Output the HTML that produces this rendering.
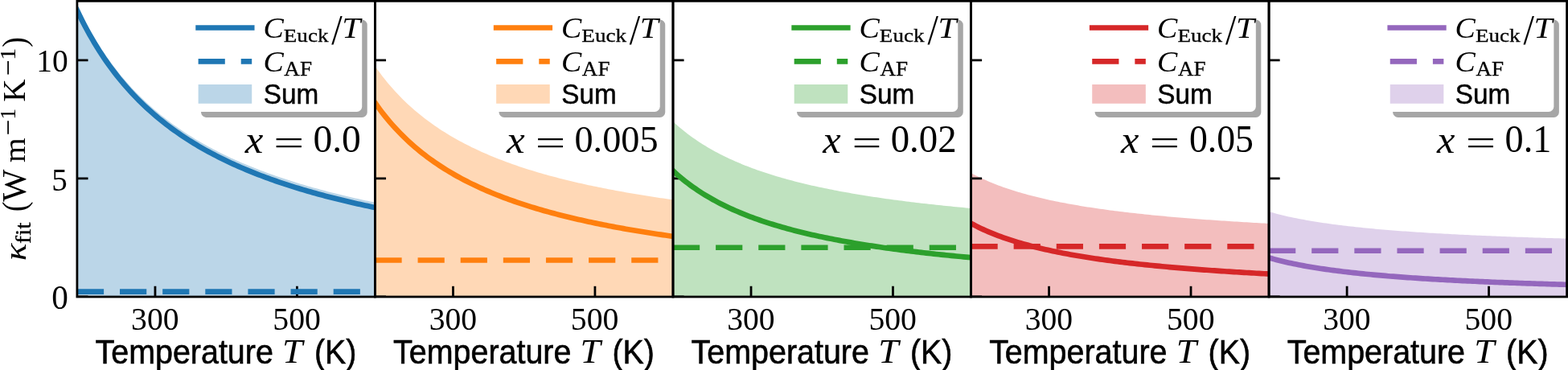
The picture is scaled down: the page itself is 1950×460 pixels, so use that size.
<!DOCTYPE html>
<html><head><meta charset="utf-8"><title>kappa fit</title>
<style>html,body{margin:0;padding:0;background:#fff;overflow:hidden}svg{display:block}.sf{font-family:"Liberation Serif",serif}.ss{font-family:"Liberation Sans",sans-serif}.it{font-style:italic}.b{stroke:#000;stroke-width:0.48px}.b2{stroke:#000;stroke-width:0.56px}</style></head>
<body>
<svg width="1950" height="460" viewBox="0 0 1950 460">
<defs>
<clipPath id="cp0"><rect x="95.90" y="1.30" width="370.54" height="367.70"/></clipPath>
<clipPath id="cp1"><rect x="466.44" y="1.30" width="370.54" height="367.70"/></clipPath>
<clipPath id="cp2"><rect x="836.98" y="1.30" width="370.54" height="367.70"/></clipPath>
<clipPath id="cp3"><rect x="1207.52" y="1.30" width="370.54" height="367.70"/></clipPath>
<clipPath id="cp4"><rect x="1578.06" y="1.30" width="370.54" height="367.70"/></clipPath>
</defs>
<rect width="1950" height="460" fill="#fff"/>
<g clip-path="url(#cp0)">
<path d="M95.90,369.00 L95.90,6.46 L98.99,12.91 L102.08,19.12 L105.16,25.12 L108.25,30.91 L111.34,36.51 L114.43,41.92 L117.51,47.15 L120.60,52.22 L123.69,57.12 L126.78,61.88 L129.87,66.49 L132.95,70.95 L136.04,75.29 L139.13,79.50 L142.22,83.59 L145.31,87.56 L148.39,91.42 L151.48,95.17 L154.57,98.82 L157.66,102.37 L160.74,105.83 L163.83,109.20 L166.92,112.48 L170.01,115.67 L173.10,118.79 L176.18,121.83 L179.27,124.79 L182.36,127.68 L185.45,130.51 L188.54,133.26 L191.62,135.95 L194.71,138.58 L197.80,141.15 L200.89,143.66 L203.97,146.11 L207.06,148.51 L210.15,150.85 L213.24,153.15 L216.33,155.40 L219.41,157.60 L222.50,159.75 L225.59,161.86 L228.68,163.92 L231.76,165.94 L234.85,167.92 L237.94,169.87 L241.03,171.77 L244.12,173.64 L247.20,175.47 L250.29,177.26 L253.38,179.02 L256.47,180.75 L259.56,182.45 L262.64,184.11 L265.73,185.75 L268.82,187.35 L271.91,188.93 L274.99,190.48 L278.08,192.00 L281.17,193.49 L284.26,194.96 L287.35,196.40 L290.43,197.82 L293.52,199.21 L296.61,200.58 L299.70,201.93 L302.78,203.26 L305.87,204.56 L308.96,205.84 L312.05,207.10 L315.14,208.35 L318.22,209.57 L321.31,210.77 L324.40,211.96 L327.49,213.12 L330.58,214.27 L333.66,215.40 L336.75,216.51 L339.84,217.61 L342.93,218.69 L346.01,219.76 L349.10,220.81 L352.19,221.84 L355.28,222.86 L358.37,223.86 L361.45,224.85 L364.54,225.83 L367.63,226.79 L370.72,227.74 L373.81,228.67 L376.89,229.60 L379.98,230.51 L383.07,231.40 L386.16,232.29 L389.24,233.16 L392.33,234.02 L395.42,234.87 L398.51,235.71 L401.60,236.54 L404.68,237.36 L407.77,238.17 L410.86,238.96 L413.95,239.75 L417.03,240.53 L420.12,241.29 L423.21,242.05 L426.30,242.80 L429.39,243.54 L432.47,244.27 L435.56,244.99 L438.65,245.70 L441.74,246.41 L444.83,247.10 L447.91,247.79 L451.00,248.47 L454.09,249.14 L457.18,249.80 L460.26,250.46 L463.35,251.10 L466.44,251.74 L466.44,369.00 Z" fill="#1f77b4" fill-opacity="0.3"/>
<line x1="192.95" y1="369.00" x2="192.95" y2="355.80" stroke="#000" stroke-width="2.78"/>
<line x1="369.39" y1="369.00" x2="369.39" y2="355.80" stroke="#000" stroke-width="2.78"/>
<line x1="95.90" y1="369.00" x2="109.50" y2="369.00" stroke="#000" stroke-width="2.78"/>
<line x1="95.90" y1="221.92" x2="109.50" y2="221.92" stroke="#000" stroke-width="2.78"/>
<line x1="95.90" y1="74.84" x2="109.50" y2="74.84" stroke="#000" stroke-width="2.78"/>
<path d="M95.90,12.76 L98.99,19.20 L102.08,25.42 L105.16,31.41 L108.25,37.20 L111.34,42.80 L114.43,48.21 L117.51,53.45 L120.60,58.51 L123.69,63.42 L126.78,68.17 L129.87,72.78 L132.95,77.25 L136.04,81.59 L139.13,85.79 L142.22,89.88 L145.31,93.85 L148.39,97.71 L151.48,101.47 L154.57,105.12 L157.66,108.67 L160.74,112.13 L163.83,115.49 L166.92,118.77 L170.01,121.97 L173.10,125.09 L176.18,128.12 L179.27,131.09 L182.36,133.98 L185.45,136.80 L188.54,139.56 L191.62,142.25 L194.71,144.87 L197.80,147.44 L200.89,149.95 L203.97,152.40 L207.06,154.80 L210.15,157.15 L213.24,159.45 L216.33,161.69 L219.41,163.89 L222.50,166.04 L225.59,168.15 L228.68,170.22 L231.76,172.24 L234.85,174.22 L237.94,176.16 L241.03,178.07 L244.12,179.93 L247.20,181.76 L250.29,183.56 L253.38,185.32 L256.47,187.05 L259.56,188.74 L262.64,190.41 L265.73,192.04 L268.82,193.65 L271.91,195.22 L274.99,196.77 L278.08,198.29 L281.17,199.78 L284.26,201.25 L287.35,202.69 L290.43,204.11 L293.52,205.51 L296.61,206.88 L299.70,208.23 L302.78,209.55 L305.87,210.85 L308.96,212.14 L312.05,213.40 L315.14,214.64 L318.22,215.86 L321.31,217.07 L324.40,218.25 L327.49,219.42 L330.58,220.57 L333.66,221.70 L336.75,222.81 L339.84,223.91 L342.93,224.99 L346.01,226.05 L349.10,227.10 L352.19,228.13 L355.28,229.15 L358.37,230.16 L361.45,231.15 L364.54,232.12 L367.63,233.08 L370.72,234.03 L373.81,234.97 L376.89,235.89 L379.98,236.80 L383.07,237.70 L386.16,238.58 L389.24,239.46 L392.33,240.32 L395.42,241.17 L398.51,242.01 L401.60,242.84 L404.68,243.66 L407.77,244.46 L410.86,245.26 L413.95,246.05 L417.03,246.82 L420.12,247.59 L423.21,248.35 L426.30,249.10 L429.39,249.83 L432.47,250.56 L435.56,251.28 L438.65,252.00 L441.74,252.70 L444.83,253.40 L447.91,254.08 L451.00,254.76 L454.09,255.43 L457.18,256.10 L460.26,256.75 L463.35,257.40 L466.44,258.04" fill="none" stroke="#1f77b4" stroke-width="6.67" stroke-linecap="square" stroke-linejoin="round"/>
<line x1="95.90" y1="362.70" x2="466.44" y2="362.70" stroke="#1f77b4" stroke-width="6.67" stroke-dasharray="33.2 19.93"/>
</g>
<g clip-path="url(#cp1)">
<path d="M466.44,369.00 L466.44,82.28 L469.53,86.65 L472.62,90.85 L475.70,94.91 L478.79,98.84 L481.88,102.63 L484.97,106.29 L488.05,109.83 L491.14,113.26 L494.23,116.59 L497.32,119.80 L500.41,122.92 L503.49,125.95 L506.58,128.89 L509.67,131.74 L512.76,134.50 L515.85,137.19 L518.93,139.81 L522.02,142.35 L525.11,144.82 L528.20,147.22 L531.28,149.57 L534.37,151.85 L537.46,154.07 L540.55,156.23 L543.64,158.34 L546.72,160.40 L549.81,162.40 L552.90,164.36 L555.99,166.27 L559.08,168.14 L562.16,169.96 L565.25,171.74 L568.34,173.48 L571.43,175.18 L574.51,176.84 L577.60,178.46 L580.69,180.05 L583.78,181.60 L586.87,183.13 L589.95,184.61 L593.04,186.07 L596.13,187.50 L599.22,188.90 L602.30,190.27 L605.39,191.61 L608.48,192.92 L611.57,194.21 L614.66,195.48 L617.74,196.72 L620.83,197.93 L623.92,199.12 L627.01,200.29 L630.10,201.44 L633.18,202.57 L636.27,203.68 L639.36,204.76 L642.45,205.83 L645.53,206.88 L648.62,207.91 L651.71,208.92 L654.80,209.91 L657.89,210.89 L660.97,211.85 L664.06,212.79 L667.15,213.72 L670.24,214.63 L673.32,215.53 L676.41,216.41 L679.50,217.28 L682.59,218.14 L685.68,218.98 L688.76,219.81 L691.85,220.62 L694.94,221.42 L698.03,222.21 L701.12,222.99 L704.20,223.75 L707.29,224.51 L710.38,225.25 L713.47,225.98 L716.55,226.70 L719.64,227.41 L722.73,228.11 L725.82,228.80 L728.91,229.48 L731.99,230.15 L735.08,230.81 L738.17,231.47 L741.26,232.11 L744.35,232.74 L747.43,233.37 L750.52,233.98 L753.61,234.59 L756.70,235.19 L759.78,235.78 L762.87,236.36 L765.96,236.94 L769.05,237.51 L772.14,238.07 L775.22,238.62 L778.31,239.17 L781.40,239.71 L784.49,240.24 L787.57,240.77 L790.66,241.29 L793.75,241.80 L796.84,242.31 L799.93,242.81 L803.01,243.30 L806.10,243.79 L809.19,244.27 L812.28,244.75 L815.37,245.22 L818.45,245.68 L821.54,246.14 L824.63,246.60 L827.72,247.05 L830.80,247.49 L833.89,247.93 L836.98,248.36 L836.98,369.00 Z" fill="#ff7f0e" fill-opacity="0.3"/>
<line x1="563.49" y1="369.00" x2="563.49" y2="355.80" stroke="#000" stroke-width="2.78"/>
<line x1="739.93" y1="369.00" x2="739.93" y2="355.80" stroke="#000" stroke-width="2.78"/>
<line x1="466.44" y1="369.00" x2="480.04" y2="369.00" stroke="#000" stroke-width="2.78"/>
<line x1="466.44" y1="221.92" x2="480.04" y2="221.92" stroke="#000" stroke-width="2.78"/>
<line x1="466.44" y1="74.84" x2="480.04" y2="74.84" stroke="#000" stroke-width="2.78"/>
<path d="M466.44,127.79 L469.53,132.15 L472.62,136.36 L475.70,140.42 L478.79,144.34 L481.88,148.13 L484.97,151.80 L488.05,155.34 L491.14,158.77 L494.23,162.09 L497.32,165.31 L500.41,168.43 L503.49,171.46 L506.58,174.39 L509.67,177.24 L512.76,180.01 L515.85,182.70 L518.93,185.31 L522.02,187.85 L525.11,190.33 L528.20,192.73 L531.28,195.07 L534.37,197.35 L537.46,199.57 L540.55,201.74 L543.64,203.85 L546.72,205.90 L549.81,207.91 L552.90,209.87 L555.99,211.78 L559.08,213.64 L562.16,215.47 L565.25,217.24 L568.34,218.98 L571.43,220.68 L574.51,222.34 L577.60,223.97 L580.69,225.56 L583.78,227.11 L586.87,228.63 L589.95,230.12 L593.04,231.58 L596.13,233.01 L599.22,234.40 L602.30,235.77 L605.39,237.11 L608.48,238.43 L611.57,239.72 L614.66,240.98 L617.74,242.22 L620.83,243.44 L623.92,244.63 L627.01,245.80 L630.10,246.95 L633.18,248.08 L636.27,249.18 L639.36,250.27 L642.45,251.34 L645.53,252.38 L648.62,253.41 L651.71,254.42 L654.80,255.42 L657.89,256.40 L660.97,257.36 L664.06,258.30 L667.15,259.23 L670.24,260.14 L673.32,261.04 L676.41,261.92 L679.50,262.79 L682.59,263.64 L685.68,264.48 L688.76,265.31 L691.85,266.13 L694.94,266.93 L698.03,267.72 L701.12,268.50 L704.20,269.26 L707.29,270.01 L710.38,270.76 L713.47,271.49 L716.55,272.21 L719.64,272.92 L722.73,273.62 L725.82,274.31 L728.91,274.99 L731.99,275.66 L735.08,276.32 L738.17,276.97 L741.26,277.61 L744.35,278.25 L747.43,278.87 L750.52,279.49 L753.61,280.10 L756.70,280.70 L759.78,281.29 L762.87,281.87 L765.96,282.45 L769.05,283.01 L772.14,283.58 L775.22,284.13 L778.31,284.68 L781.40,285.22 L784.49,285.75 L787.57,286.27 L790.66,286.79 L793.75,287.31 L796.84,287.81 L799.93,288.31 L803.01,288.81 L806.10,289.30 L809.19,289.78 L812.28,290.25 L815.37,290.72 L818.45,291.19 L821.54,291.65 L824.63,292.10 L827.72,292.55 L830.80,293.00 L833.89,293.44 L836.98,293.87" fill="none" stroke="#ff7f0e" stroke-width="6.67" stroke-linecap="square" stroke-linejoin="round"/>
<line x1="466.44" y1="323.49" x2="836.98" y2="323.49" stroke="#ff7f0e" stroke-width="6.67" stroke-dasharray="33.2 19.93"/>
</g>
<g clip-path="url(#cp2)">
<path d="M836.98,369.00 L836.98,151.08 L840.07,153.91 L843.16,156.64 L846.24,159.28 L849.33,161.83 L852.42,164.29 L855.51,166.67 L858.59,168.97 L861.68,171.20 L864.77,173.36 L867.86,175.45 L870.95,177.48 L874.03,179.44 L877.12,181.35 L880.21,183.20 L883.30,185.00 L886.39,186.74 L889.47,188.44 L892.56,190.09 L895.65,191.70 L898.74,193.26 L901.82,194.78 L904.91,196.26 L908.00,197.70 L911.09,199.11 L914.18,200.48 L917.26,201.82 L920.35,203.12 L923.44,204.39 L926.53,205.63 L929.62,206.84 L932.70,208.03 L935.79,209.18 L938.88,210.31 L941.97,211.42 L945.05,212.50 L948.14,213.55 L951.23,214.58 L954.32,215.59 L957.41,216.58 L960.49,217.55 L963.58,218.49 L966.67,219.42 L969.76,220.33 L972.84,221.22 L975.93,222.09 L979.02,222.94 L982.11,223.78 L985.20,224.60 L988.28,225.41 L991.37,226.20 L994.46,226.97 L997.55,227.73 L1000.64,228.48 L1003.72,229.21 L1006.81,229.93 L1009.90,230.63 L1012.99,231.33 L1016.07,232.01 L1019.16,232.68 L1022.25,233.33 L1025.34,233.98 L1028.43,234.61 L1031.51,235.24 L1034.60,235.85 L1037.69,236.45 L1040.78,237.05 L1043.86,237.63 L1046.95,238.20 L1050.04,238.77 L1053.13,239.32 L1056.22,239.87 L1059.30,240.41 L1062.39,240.93 L1065.48,241.46 L1068.57,241.97 L1071.66,242.47 L1074.74,242.97 L1077.83,243.46 L1080.92,243.94 L1084.01,244.42 L1087.09,244.89 L1090.18,245.35 L1093.27,245.80 L1096.36,246.25 L1099.45,246.69 L1102.53,247.13 L1105.62,247.56 L1108.71,247.98 L1111.80,248.40 L1114.88,248.81 L1117.97,249.21 L1121.06,249.61 L1124.15,250.01 L1127.24,250.40 L1130.32,250.78 L1133.41,251.16 L1136.50,251.53 L1139.59,251.90 L1142.68,252.27 L1145.76,252.63 L1148.85,252.98 L1151.94,253.33 L1155.03,253.68 L1158.11,254.02 L1161.20,254.36 L1164.29,254.69 L1167.38,255.02 L1170.47,255.35 L1173.55,255.67 L1176.64,255.98 L1179.73,256.30 L1182.82,256.61 L1185.91,256.91 L1188.99,257.21 L1192.08,257.51 L1195.17,257.81 L1198.26,258.10 L1201.34,258.39 L1204.43,258.67 L1207.52,258.95 L1207.52,369.00 Z" fill="#2ca02c" fill-opacity="0.3"/>
<line x1="934.03" y1="369.00" x2="934.03" y2="355.80" stroke="#000" stroke-width="2.78"/>
<line x1="1110.47" y1="369.00" x2="1110.47" y2="355.80" stroke="#000" stroke-width="2.78"/>
<line x1="836.98" y1="369.00" x2="850.58" y2="369.00" stroke="#000" stroke-width="2.78"/>
<line x1="836.98" y1="221.92" x2="850.58" y2="221.92" stroke="#000" stroke-width="2.78"/>
<line x1="836.98" y1="74.84" x2="850.58" y2="74.84" stroke="#000" stroke-width="2.78"/>
<path d="M836.98,212.32 L840.07,215.16 L843.16,217.89 L846.24,220.53 L849.33,223.07 L852.42,225.53 L855.51,227.91 L858.59,230.22 L861.68,232.44 L864.77,234.60 L867.86,236.69 L870.95,238.72 L874.03,240.69 L877.12,242.59 L880.21,244.44 L883.30,246.24 L886.39,247.99 L889.47,249.69 L892.56,251.34 L895.65,252.94 L898.74,254.50 L901.82,256.02 L904.91,257.51 L908.00,258.95 L911.09,260.35 L914.18,261.72 L917.26,263.06 L920.35,264.36 L923.44,265.64 L926.53,266.88 L929.62,268.09 L932.70,269.27 L935.79,270.43 L938.88,271.56 L941.97,272.66 L945.05,273.74 L948.14,274.79 L951.23,275.83 L954.32,276.84 L957.41,277.82 L960.49,278.79 L963.58,279.74 L966.67,280.66 L969.76,281.57 L972.84,282.46 L975.93,283.33 L979.02,284.19 L982.11,285.03 L985.20,285.85 L988.28,286.65 L991.37,287.44 L994.46,288.22 L997.55,288.98 L1000.64,289.72 L1003.72,290.45 L1006.81,291.17 L1009.90,291.88 L1012.99,292.57 L1016.07,293.25 L1019.16,293.92 L1022.25,294.58 L1025.34,295.22 L1028.43,295.86 L1031.51,296.48 L1034.60,297.09 L1037.69,297.70 L1040.78,298.29 L1043.86,298.87 L1046.95,299.45 L1050.04,300.01 L1053.13,300.57 L1056.22,301.11 L1059.30,301.65 L1062.39,302.18 L1065.48,302.70 L1068.57,303.21 L1071.66,303.72 L1074.74,304.21 L1077.83,304.70 L1080.92,305.19 L1084.01,305.66 L1087.09,306.13 L1090.18,306.59 L1093.27,307.05 L1096.36,307.49 L1099.45,307.94 L1102.53,308.37 L1105.62,308.80 L1108.71,309.22 L1111.80,309.64 L1114.88,310.05 L1117.97,310.46 L1121.06,310.86 L1124.15,311.25 L1127.24,311.64 L1130.32,312.03 L1133.41,312.40 L1136.50,312.78 L1139.59,313.15 L1142.68,313.51 L1145.76,313.87 L1148.85,314.23 L1151.94,314.58 L1155.03,314.92 L1158.11,315.27 L1161.20,315.60 L1164.29,315.94 L1167.38,316.26 L1170.47,316.59 L1173.55,316.91 L1176.64,317.23 L1179.73,317.54 L1182.82,317.85 L1185.91,318.16 L1188.99,318.46 L1192.08,318.76 L1195.17,319.05 L1198.26,319.34 L1201.34,319.63 L1204.43,319.92 L1207.52,320.20" fill="none" stroke="#2ca02c" stroke-width="6.67" stroke-linecap="square" stroke-linejoin="round"/>
<line x1="836.98" y1="307.76" x2="1207.52" y2="307.76" stroke="#2ca02c" stroke-width="6.67" stroke-dasharray="33.2 19.93"/>
</g>
<g clip-path="url(#cp3)">
<path d="M1207.52,369.00 L1207.52,215.00 L1210.61,216.65 L1213.70,218.25 L1216.78,219.78 L1219.87,221.27 L1222.96,222.70 L1226.05,224.09 L1229.13,225.43 L1232.22,226.73 L1235.31,227.99 L1238.40,229.21 L1241.49,230.39 L1244.57,231.54 L1247.66,232.65 L1250.75,233.73 L1253.84,234.78 L1256.93,235.79 L1260.01,236.78 L1263.10,237.75 L1266.19,238.68 L1269.28,239.59 L1272.36,240.48 L1275.45,241.34 L1278.54,242.18 L1281.63,243.00 L1284.72,243.80 L1287.80,244.58 L1290.89,245.34 L1293.98,246.08 L1297.07,246.81 L1300.16,247.51 L1303.24,248.20 L1306.33,248.88 L1309.42,249.53 L1312.51,250.18 L1315.59,250.81 L1318.68,251.42 L1321.77,252.02 L1324.86,252.61 L1327.95,253.19 L1331.03,253.75 L1334.12,254.30 L1337.21,254.84 L1340.30,255.37 L1343.38,255.89 L1346.47,256.40 L1349.56,256.90 L1352.65,257.39 L1355.74,257.87 L1358.82,258.33 L1361.91,258.79 L1365.00,259.25 L1368.09,259.69 L1371.18,260.12 L1374.26,260.55 L1377.35,260.97 L1380.44,261.38 L1383.53,261.79 L1386.61,262.18 L1389.70,262.57 L1392.79,262.96 L1395.88,263.33 L1398.97,263.70 L1402.05,264.07 L1405.14,264.42 L1408.23,264.77 L1411.32,265.12 L1414.40,265.46 L1417.49,265.79 L1420.58,266.12 L1423.67,266.45 L1426.76,266.76 L1429.84,267.08 L1432.93,267.39 L1436.02,267.69 L1439.11,267.99 L1442.20,268.28 L1445.28,268.57 L1448.37,268.86 L1451.46,269.14 L1454.55,269.42 L1457.63,269.69 L1460.72,269.96 L1463.81,270.22 L1466.90,270.49 L1469.99,270.74 L1473.07,271.00 L1476.16,271.25 L1479.25,271.49 L1482.34,271.74 L1485.43,271.98 L1488.51,272.21 L1491.60,272.45 L1494.69,272.68 L1497.78,272.90 L1500.86,273.13 L1503.95,273.35 L1507.04,273.57 L1510.13,273.78 L1513.22,273.99 L1516.30,274.20 L1519.39,274.41 L1522.48,274.62 L1525.57,274.82 L1528.65,275.02 L1531.74,275.21 L1534.83,275.41 L1537.92,275.60 L1541.01,275.79 L1544.09,275.98 L1547.18,276.16 L1550.27,276.34 L1553.36,276.52 L1556.45,276.70 L1559.53,276.88 L1562.62,277.05 L1565.71,277.22 L1568.80,277.39 L1571.88,277.56 L1574.97,277.73 L1578.06,277.89 L1578.06,369.00 Z" fill="#d62728" fill-opacity="0.3"/>
<line x1="1304.57" y1="369.00" x2="1304.57" y2="355.80" stroke="#000" stroke-width="2.78"/>
<line x1="1481.01" y1="369.00" x2="1481.01" y2="355.80" stroke="#000" stroke-width="2.78"/>
<line x1="1207.52" y1="369.00" x2="1221.12" y2="369.00" stroke="#000" stroke-width="2.78"/>
<line x1="1207.52" y1="221.92" x2="1221.12" y2="221.92" stroke="#000" stroke-width="2.78"/>
<line x1="1207.52" y1="74.84" x2="1221.12" y2="74.84" stroke="#000" stroke-width="2.78"/>
<path d="M1207.52,277.66 L1210.61,279.31 L1213.70,280.90 L1216.78,282.44 L1219.87,283.92 L1222.96,285.36 L1226.05,286.75 L1229.13,288.09 L1232.22,289.39 L1235.31,290.65 L1238.40,291.86 L1241.49,293.05 L1244.57,294.19 L1247.66,295.30 L1250.75,296.38 L1253.84,297.43 L1256.93,298.45 L1260.01,299.44 L1263.10,300.40 L1266.19,301.34 L1269.28,302.25 L1272.36,303.13 L1275.45,304.00 L1278.54,304.84 L1281.63,305.66 L1284.72,306.46 L1287.80,307.24 L1290.89,308.00 L1293.98,308.74 L1297.07,309.46 L1300.16,310.17 L1303.24,310.86 L1306.33,311.53 L1309.42,312.19 L1312.51,312.83 L1315.59,313.46 L1318.68,314.08 L1321.77,314.68 L1324.86,315.27 L1327.95,315.84 L1331.03,316.41 L1334.12,316.96 L1337.21,317.50 L1340.30,318.03 L1343.38,318.55 L1346.47,319.06 L1349.56,319.55 L1352.65,320.04 L1355.74,320.52 L1358.82,320.99 L1361.91,321.45 L1365.00,321.90 L1368.09,322.35 L1371.18,322.78 L1374.26,323.21 L1377.35,323.63 L1380.44,324.04 L1383.53,324.44 L1386.61,324.84 L1389.70,325.23 L1392.79,325.61 L1395.88,325.99 L1398.97,326.36 L1402.05,326.72 L1405.14,327.08 L1408.23,327.43 L1411.32,327.78 L1414.40,328.12 L1417.49,328.45 L1420.58,328.78 L1423.67,329.10 L1426.76,329.42 L1429.84,329.73 L1432.93,330.04 L1436.02,330.35 L1439.11,330.65 L1442.20,330.94 L1445.28,331.23 L1448.37,331.52 L1451.46,331.80 L1454.55,332.07 L1457.63,332.35 L1460.72,332.62 L1463.81,332.88 L1466.90,333.14 L1469.99,333.40 L1473.07,333.65 L1476.16,333.90 L1479.25,334.15 L1482.34,334.39 L1485.43,334.63 L1488.51,334.87 L1491.60,335.10 L1494.69,335.33 L1497.78,335.56 L1500.86,335.78 L1503.95,336.00 L1507.04,336.22 L1510.13,336.44 L1513.22,336.65 L1516.30,336.86 L1519.39,337.07 L1522.48,337.27 L1525.57,337.47 L1528.65,337.67 L1531.74,337.87 L1534.83,338.06 L1537.92,338.26 L1541.01,338.44 L1544.09,338.63 L1547.18,338.82 L1550.27,339.00 L1553.36,339.18 L1556.45,339.36 L1559.53,339.53 L1562.62,339.71 L1565.71,339.88 L1568.80,340.05 L1571.88,340.22 L1574.97,340.38 L1578.06,340.55" fill="none" stroke="#d62728" stroke-width="6.67" stroke-linecap="square" stroke-linejoin="round"/>
<line x1="1207.52" y1="306.34" x2="1578.06" y2="306.34" stroke="#d62728" stroke-width="6.67" stroke-dasharray="33.2 19.93"/>
</g>
<g clip-path="url(#cp4)">
<path d="M1578.06,369.00 L1578.06,263.14 L1581.15,264.02 L1584.24,264.87 L1587.32,265.69 L1590.41,266.48 L1593.50,267.24 L1596.59,267.98 L1599.67,268.70 L1602.76,269.39 L1605.85,270.06 L1608.94,270.70 L1612.03,271.33 L1615.11,271.94 L1618.20,272.54 L1621.29,273.11 L1624.38,273.67 L1627.47,274.21 L1630.55,274.74 L1633.64,275.25 L1636.73,275.75 L1639.82,276.23 L1642.90,276.70 L1645.99,277.16 L1649.08,277.61 L1652.17,278.05 L1655.26,278.47 L1658.34,278.89 L1661.43,279.29 L1664.52,279.68 L1667.61,280.07 L1670.70,280.45 L1673.78,280.81 L1676.87,281.17 L1679.96,281.52 L1683.05,281.86 L1686.13,282.20 L1689.22,282.53 L1692.31,282.85 L1695.40,283.16 L1698.49,283.47 L1701.57,283.77 L1704.66,284.06 L1707.75,284.35 L1710.84,284.63 L1713.92,284.91 L1717.01,285.18 L1720.10,285.44 L1723.19,285.70 L1726.28,285.96 L1729.36,286.21 L1732.45,286.45 L1735.54,286.69 L1738.63,286.93 L1741.72,287.16 L1744.80,287.39 L1747.89,287.61 L1750.98,287.83 L1754.07,288.04 L1757.15,288.25 L1760.24,288.46 L1763.33,288.66 L1766.42,288.87 L1769.51,289.06 L1772.59,289.26 L1775.68,289.45 L1778.77,289.63 L1781.86,289.82 L1784.94,290.00 L1788.03,290.18 L1791.12,290.35 L1794.21,290.52 L1797.30,290.69 L1800.38,290.86 L1803.47,291.02 L1806.56,291.18 L1809.65,291.34 L1812.74,291.50 L1815.82,291.65 L1818.91,291.81 L1822.00,291.96 L1825.09,292.10 L1828.17,292.25 L1831.26,292.39 L1834.35,292.53 L1837.44,292.67 L1840.53,292.81 L1843.61,292.94 L1846.70,293.08 L1849.79,293.21 L1852.88,293.34 L1855.97,293.47 L1859.05,293.59 L1862.14,293.72 L1865.23,293.84 L1868.32,293.96 L1871.40,294.08 L1874.49,294.20 L1877.58,294.31 L1880.67,294.43 L1883.76,294.54 L1886.84,294.65 L1889.93,294.76 L1893.02,294.87 L1896.11,294.98 L1899.19,295.08 L1902.28,295.19 L1905.37,295.29 L1908.46,295.39 L1911.55,295.49 L1914.63,295.59 L1917.72,295.69 L1920.81,295.79 L1923.90,295.89 L1926.99,295.98 L1930.07,296.07 L1933.16,296.17 L1936.25,296.26 L1939.34,296.35 L1942.42,296.44 L1945.51,296.53 L1948.60,296.61 L1948.60,369.00 Z" fill="#9467bd" fill-opacity="0.3"/>
<line x1="1675.11" y1="369.00" x2="1675.11" y2="355.80" stroke="#000" stroke-width="2.78"/>
<line x1="1851.55" y1="369.00" x2="1851.55" y2="355.80" stroke="#000" stroke-width="2.78"/>
<line x1="1578.06" y1="369.00" x2="1591.66" y2="369.00" stroke="#000" stroke-width="2.78"/>
<line x1="1578.06" y1="221.92" x2="1591.66" y2="221.92" stroke="#000" stroke-width="2.78"/>
<line x1="1578.06" y1="74.84" x2="1591.66" y2="74.84" stroke="#000" stroke-width="2.78"/>
<path d="M1578.06,320.39 L1581.15,321.27 L1584.24,322.11 L1587.32,322.93 L1590.41,323.72 L1593.50,324.49 L1596.59,325.22 L1599.67,325.94 L1602.76,326.63 L1605.85,327.30 L1608.94,327.95 L1612.03,328.58 L1615.11,329.19 L1618.20,329.78 L1621.29,330.35 L1624.38,330.91 L1627.47,331.45 L1630.55,331.98 L1633.64,332.49 L1636.73,332.99 L1639.82,333.47 L1642.90,333.95 L1645.99,334.41 L1649.08,334.85 L1652.17,335.29 L1655.26,335.71 L1658.34,336.13 L1661.43,336.53 L1664.52,336.93 L1667.61,337.31 L1670.70,337.69 L1673.78,338.06 L1676.87,338.42 L1679.96,338.77 L1683.05,339.11 L1686.13,339.44 L1689.22,339.77 L1692.31,340.09 L1695.40,340.40 L1698.49,340.71 L1701.57,341.01 L1704.66,341.30 L1707.75,341.59 L1710.84,341.87 L1713.92,342.15 L1717.01,342.42 L1720.10,342.68 L1723.19,342.94 L1726.28,343.20 L1729.36,343.45 L1732.45,343.69 L1735.54,343.93 L1738.63,344.17 L1741.72,344.40 L1744.80,344.63 L1747.89,344.85 L1750.98,345.07 L1754.07,345.29 L1757.15,345.50 L1760.24,345.70 L1763.33,345.91 L1766.42,346.11 L1769.51,346.31 L1772.59,346.50 L1775.68,346.69 L1778.77,346.88 L1781.86,347.06 L1784.94,347.24 L1788.03,347.42 L1791.12,347.59 L1794.21,347.77 L1797.30,347.94 L1800.38,348.10 L1803.47,348.27 L1806.56,348.43 L1809.65,348.59 L1812.74,348.74 L1815.82,348.90 L1818.91,349.05 L1822.00,349.20 L1825.09,349.35 L1828.17,349.49 L1831.26,349.64 L1834.35,349.78 L1837.44,349.92 L1840.53,350.05 L1843.61,350.19 L1846.70,350.32 L1849.79,350.45 L1852.88,350.58 L1855.97,350.71 L1859.05,350.84 L1862.14,350.96 L1865.23,351.08 L1868.32,351.20 L1871.40,351.32 L1874.49,351.44 L1877.58,351.56 L1880.67,351.67 L1883.76,351.78 L1886.84,351.90 L1889.93,352.01 L1893.02,352.11 L1896.11,352.22 L1899.19,352.33 L1902.28,352.43 L1905.37,352.54 L1908.46,352.64 L1911.55,352.74 L1914.63,352.84 L1917.72,352.94 L1920.81,353.03 L1923.90,353.13 L1926.99,353.22 L1930.07,353.32 L1933.16,353.41 L1936.25,353.50 L1939.34,353.59 L1942.42,353.68 L1945.51,353.77 L1948.60,353.86" fill="none" stroke="#9467bd" stroke-width="6.67" stroke-linecap="square" stroke-linejoin="round"/>
<line x1="1578.06" y1="311.76" x2="1948.60" y2="311.76" stroke="#9467bd" stroke-width="6.67" stroke-dasharray="33.2 19.93"/>
</g>
<rect x="95.90" y="1.30" width="370.54" height="367.70" fill="none" stroke="#000" stroke-width="2.78"/>
<rect x="466.44" y="1.30" width="370.54" height="367.70" fill="none" stroke="#000" stroke-width="2.78"/>
<rect x="836.98" y="1.30" width="370.54" height="367.70" fill="none" stroke="#000" stroke-width="2.78"/>
<rect x="1207.52" y="1.30" width="370.54" height="367.70" fill="none" stroke="#000" stroke-width="2.78"/>
<rect x="1578.06" y="1.30" width="370.54" height="367.70" fill="none" stroke="#000" stroke-width="2.78"/>
<rect x="250.00" y="24.6" width="206.70" height="121.30" rx="6.5" fill="#a6a6a6"/>
<rect x="243.40" y="18.00" width="206.80" height="121.00" rx="6.5" fill="#fff"/>
<line x1="246.60" y1="34.5" x2="313.20" y2="34.5" stroke="#1f77b4" stroke-width="6.67" stroke-linecap="square"/>
<line x1="246.60" y1="76.4" x2="313.20" y2="76.4" stroke="#1f77b4" stroke-width="6.67" stroke-dasharray="33.2 19.93"/>
<rect x="246.60" y="105.0" width="66.6" height="23.75" fill="#1f77b4" fill-opacity="0.3"/>
<rect x="620.54" y="24.6" width="206.70" height="121.30" rx="6.5" fill="#a6a6a6"/>
<rect x="613.94" y="18.00" width="206.80" height="121.00" rx="6.5" fill="#fff"/>
<line x1="617.14" y1="34.5" x2="683.74" y2="34.5" stroke="#ff7f0e" stroke-width="6.67" stroke-linecap="square"/>
<line x1="617.14" y1="76.4" x2="683.74" y2="76.4" stroke="#ff7f0e" stroke-width="6.67" stroke-dasharray="33.2 19.93"/>
<rect x="617.14" y="105.0" width="66.6" height="23.75" fill="#ff7f0e" fill-opacity="0.3"/>
<rect x="991.08" y="24.6" width="206.70" height="121.30" rx="6.5" fill="#a6a6a6"/>
<rect x="984.48" y="18.00" width="206.80" height="121.00" rx="6.5" fill="#fff"/>
<line x1="987.68" y1="34.5" x2="1054.28" y2="34.5" stroke="#2ca02c" stroke-width="6.67" stroke-linecap="square"/>
<line x1="987.68" y1="76.4" x2="1054.28" y2="76.4" stroke="#2ca02c" stroke-width="6.67" stroke-dasharray="33.2 19.93"/>
<rect x="987.68" y="105.0" width="66.6" height="23.75" fill="#2ca02c" fill-opacity="0.3"/>
<rect x="1361.62" y="24.6" width="206.70" height="121.30" rx="6.5" fill="#a6a6a6"/>
<rect x="1355.02" y="18.00" width="206.80" height="121.00" rx="6.5" fill="#fff"/>
<line x1="1358.22" y1="34.5" x2="1424.82" y2="34.5" stroke="#d62728" stroke-width="6.67" stroke-linecap="square"/>
<line x1="1358.22" y1="76.4" x2="1424.82" y2="76.4" stroke="#d62728" stroke-width="6.67" stroke-dasharray="33.2 19.93"/>
<rect x="1358.22" y="105.0" width="66.6" height="23.75" fill="#d62728" fill-opacity="0.3"/>
<rect x="1732.16" y="24.6" width="206.70" height="121.30" rx="6.5" fill="#a6a6a6"/>
<rect x="1725.56" y="18.00" width="206.80" height="121.00" rx="6.5" fill="#fff"/>
<line x1="1728.76" y1="34.5" x2="1795.36" y2="34.5" stroke="#9467bd" stroke-width="6.67" stroke-linecap="square"/>
<line x1="1728.76" y1="76.4" x2="1795.36" y2="76.4" stroke="#9467bd" stroke-width="6.67" stroke-dasharray="33.2 19.93"/>
<rect x="1728.76" y="105.0" width="66.6" height="23.75" fill="#9467bd" fill-opacity="0.3"/>
<g font-size="40px" fill="#000">
<text transform="matrix(0.98571 0 0 1.00000 45.25 89.00)" class="sf">10</text>
<text transform="matrix(0.97516 0 0 1.02632 64.26 236.59)" class="sf">5</text>
<text transform="matrix(1.02941 0 0 1.03333 64.26 384.19)" class="sf">0</text>
<text transform="matrix(0 -1.13260 0.95652 0 32.30 324.20)" class="sf it">κ</text>
<text transform="matrix(0 -0.74780 0.68531 0 37.93 302.90)" class="sf b">fit</text>
<text transform="matrix(0 -0.95098 1.04144 0 31.75 263.21)" class="sf">(</text>
<text transform="matrix(0 -1.06366 1.05970 0 31.66 250.80)" class="sf">W</text>
<text transform="matrix(0 -0.98653 0.93617 0 31.30 201.99)" class="sf">m</text>
<text transform="matrix(0 -0.89785 0.90000 0 21.87 168.80)" class="sf">−</text>
<text transform="matrix(0 -0.69504 0.66667 0 18.60 148.83)" class="sf">1</text>
<text transform="matrix(0 -0.98168 1.00763 0 31.30 126.68)" class="sf">K</text>
<text transform="matrix(0 -0.89247 0.90000 0 21.87 94.58)" class="sf">−</text>
<text transform="matrix(0 -0.76596 0.66667 0 18.60 74.98)" class="sf">1</text>
<text transform="matrix(0 -0.95146 1.04144 0 31.75 58.84)" class="sf">)</text>
<text transform="matrix(0.98940 0 0 1.00000 163.12 409.60)" class="sf">300</text>
<text transform="matrix(0.99288 0 0 1.00000 339.32 409.60)" class="sf">500</text>
<text transform="matrix(0.98603 0 0 1.04364 118.51 451.50)" class="ss b2">Temperature</text>
<text transform="matrix(1.13636 0 0 1.06489 351.05 451.40)" class="sf it">T</text>
<text transform="matrix(0.98344 0 0 1.04364 390.94 451.50)" class="ss b2">(K)</text>
<text transform="matrix(0.94758 0 0 0.91822 327.42 47.13)" class="sf it">C</text>
<text transform="matrix(0.67778 0 0 0.60284 352.79 51.76)" class="sf b">Euck</text>
<text transform="matrix(1.20721 0 0 1.29478 412.30 54.58)" class="sf">/</text>
<text transform="matrix(1.03182 0 0 0.87023 425.32 46.80)" class="sf it">T</text>
<text transform="matrix(0.94758 0 0 0.91822 327.42 88.83)" class="sf it">C</text>
<text transform="matrix(0.67748 0 0 0.64394 353.33 93.50)" class="sf b">AF</text>
<text transform="matrix(0.83290 0 0 0.88339 327.70 128.95)" class="ss b2">Sum</text>
<text transform="matrix(1.27222 0 0 1.20109 304.74 189.80)" class="sf it">x</text>
<text transform="matrix(1.68280 0 0 1.11000 340.33 192.21)" class="sf">=</text>
<text transform="matrix(1.18723 0 0 1.18750 389.42 189.49)" class="sf">0.0</text>
<text transform="matrix(0.98940 0 0 1.00000 533.66 409.60)" class="sf">300</text>
<text transform="matrix(0.99288 0 0 1.00000 709.86 409.60)" class="sf">500</text>
<text transform="matrix(0.98603 0 0 1.04364 489.05 451.50)" class="ss b2">Temperature</text>
<text transform="matrix(1.13636 0 0 1.06489 721.59 451.40)" class="sf it">T</text>
<text transform="matrix(0.98344 0 0 1.04364 761.48 451.50)" class="ss b2">(K)</text>
<text transform="matrix(0.94758 0 0 0.91822 697.96 47.13)" class="sf it">C</text>
<text transform="matrix(0.67778 0 0 0.60284 723.33 51.76)" class="sf b">Euck</text>
<text transform="matrix(1.20721 0 0 1.29478 782.84 54.58)" class="sf">/</text>
<text transform="matrix(1.03182 0 0 0.87023 795.86 46.80)" class="sf it">T</text>
<text transform="matrix(0.94758 0 0 0.91822 697.96 88.83)" class="sf it">C</text>
<text transform="matrix(0.67748 0 0 0.64394 723.87 93.50)" class="sf b">AF</text>
<text transform="matrix(0.83290 0 0 0.88339 698.24 128.95)" class="ss b2">Sum</text>
<text transform="matrix(1.27778 0 0 1.20109 629.94 189.80)" class="sf it">x</text>
<text transform="matrix(1.66129 0 0 1.11000 665.68 192.21)" class="sf">=</text>
<text transform="matrix(1.15650 0 0 1.18750 714.47 189.49)" class="sf">0.005</text>
<text transform="matrix(0.98940 0 0 1.00000 904.20 409.60)" class="sf">300</text>
<text transform="matrix(0.99288 0 0 1.00000 1080.40 409.60)" class="sf">500</text>
<text transform="matrix(0.98603 0 0 1.04364 859.59 451.50)" class="ss b2">Temperature</text>
<text transform="matrix(1.13636 0 0 1.06489 1092.13 451.40)" class="sf it">T</text>
<text transform="matrix(0.98344 0 0 1.04364 1132.02 451.50)" class="ss b2">(K)</text>
<text transform="matrix(0.94758 0 0 0.91822 1068.50 47.13)" class="sf it">C</text>
<text transform="matrix(0.67778 0 0 0.60284 1093.87 51.76)" class="sf b">Euck</text>
<text transform="matrix(1.20721 0 0 1.29478 1153.38 54.58)" class="sf">/</text>
<text transform="matrix(1.03182 0 0 0.87023 1166.40 46.80)" class="sf it">T</text>
<text transform="matrix(0.94758 0 0 0.91822 1068.50 88.83)" class="sf it">C</text>
<text transform="matrix(0.67748 0 0 0.64394 1094.41 93.50)" class="sf b">AF</text>
<text transform="matrix(0.83290 0 0 0.88339 1068.78 128.95)" class="ss b2">Sum</text>
<text transform="matrix(1.26111 0 0 1.20109 1023.33 189.80)" class="sf it">x</text>
<text transform="matrix(1.63978 0 0 1.11000 1059.52 192.21)" class="sf">=</text>
<text transform="matrix(1.17195 0 0 1.18750 1107.64 189.49)" class="sf">0.02</text>
<text transform="matrix(0.98940 0 0 1.00000 1274.74 409.60)" class="sf">300</text>
<text transform="matrix(0.99288 0 0 1.00000 1450.94 409.60)" class="sf">500</text>
<text transform="matrix(0.98603 0 0 1.04364 1230.13 451.50)" class="ss b2">Temperature</text>
<text transform="matrix(1.13636 0 0 1.06489 1462.67 451.40)" class="sf it">T</text>
<text transform="matrix(0.98344 0 0 1.04364 1502.56 451.50)" class="ss b2">(K)</text>
<text transform="matrix(0.94758 0 0 0.91822 1439.04 47.13)" class="sf it">C</text>
<text transform="matrix(0.67778 0 0 0.60284 1464.41 51.76)" class="sf b">Euck</text>
<text transform="matrix(1.20721 0 0 1.29478 1523.92 54.58)" class="sf">/</text>
<text transform="matrix(1.03182 0 0 0.87023 1536.94 46.80)" class="sf it">T</text>
<text transform="matrix(0.94758 0 0 0.91822 1439.04 88.83)" class="sf it">C</text>
<text transform="matrix(0.67748 0 0 0.64394 1464.95 93.50)" class="sf b">AF</text>
<text transform="matrix(0.83290 0 0 0.88339 1439.32 128.95)" class="ss b2">Sum</text>
<text transform="matrix(1.26111 0 0 1.20109 1393.93 189.80)" class="sf it">x</text>
<text transform="matrix(1.65591 0 0 1.11000 1429.79 192.21)" class="sf">=</text>
<text transform="matrix(1.14350 0 0 1.18750 1478.88 189.49)" class="sf">0.05</text>
<text transform="matrix(0.98940 0 0 1.00000 1645.28 409.60)" class="sf">300</text>
<text transform="matrix(0.99288 0 0 1.00000 1821.48 409.60)" class="sf">500</text>
<text transform="matrix(0.98603 0 0 1.04364 1600.67 451.50)" class="ss b2">Temperature</text>
<text transform="matrix(1.13636 0 0 1.06489 1833.21 451.40)" class="sf it">T</text>
<text transform="matrix(0.98344 0 0 1.04364 1873.10 451.50)" class="ss b2">(K)</text>
<text transform="matrix(0.94758 0 0 0.91822 1809.58 47.13)" class="sf it">C</text>
<text transform="matrix(0.67778 0 0 0.60284 1834.95 51.76)" class="sf b">Euck</text>
<text transform="matrix(1.20721 0 0 1.29478 1894.46 54.58)" class="sf">/</text>
<text transform="matrix(1.03182 0 0 0.87023 1907.48 46.80)" class="sf it">T</text>
<text transform="matrix(0.94758 0 0 0.91822 1809.58 88.83)" class="sf it">C</text>
<text transform="matrix(0.67748 0 0 0.64394 1835.49 93.50)" class="sf b">AF</text>
<text transform="matrix(0.83290 0 0 0.88339 1809.86 128.95)" class="ss b2">Sum</text>
<text transform="matrix(1.26111 0 0 1.20109 1787.03 189.80)" class="sf it">x</text>
<text transform="matrix(1.66129 0 0 1.11000 1822.78 192.21)" class="sf">=</text>
<text transform="matrix(1.15618 0 0 1.18750 1871.57 189.49)" class="sf">0.1</text>
</g>
</svg>
</body></html>
